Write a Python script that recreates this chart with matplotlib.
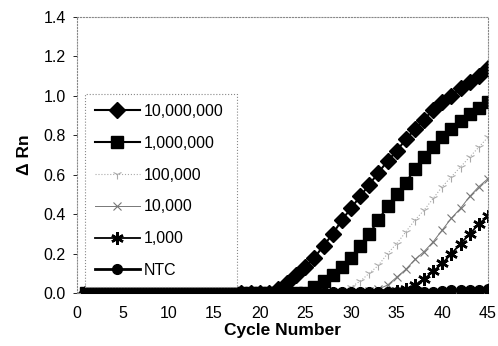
import numpy as np
import matplotlib.pyplot as plt
from matplotlib.lines import Line2D

plt.rcParams['font.family'] = ['Liberation Sans', 'DejaVu Sans']

cycles = list(range(1, 46))

# delta Rn per cycle
s_10m = [0.0] * 21 + [0.02, 0.05, 0.09, 0.13, 0.18, 0.24, 0.30, 0.37, 0.43, 0.49,
                      0.55, 0.61, 0.67, 0.72, 0.78, 0.83, 0.88, 0.93, 0.97, 1.00,
                      1.04, 1.07, 1.10, 1.14]
s_1m = [0.0] * 25 + [0.03, 0.06, 0.09, 0.13, 0.18, 0.24, 0.30, 0.37, 0.44, 0.50,
                     0.56, 0.63, 0.69, 0.74, 0.79, 0.83, 0.87, 0.91, 0.94, 0.97]
s_100k = [0.0] * 28 + [0.01, 0.03, 0.06, 0.10, 0.14, 0.20, 0.25, 0.31, 0.37, 0.42,
                       0.48, 0.54, 0.59, 0.64, 0.69, 0.74, 0.79]
s_10k = [0.0] * 31 + [0.01, 0.02, 0.04, 0.08, 0.12, 0.17, 0.21, 0.26, 0.32, 0.38,
                      0.43, 0.49, 0.54, 0.58]
s_1k = [0.0] * 34 + [0.01, 0.02, 0.04, 0.07, 0.11, 0.15, 0.20, 0.25, 0.30, 0.35, 0.39]
s_ntc = [0.005] * 39 + [0.012, 0.015, 0.015, 0.015, 0.015, 0.018]

labels = ['10,000,000', '1,000,000', '100,000', '10,000', '1,000', 'NTC']
yticks = [0.0, 0.2, 0.4, 0.6, 0.8, 1.0, 1.2, 1.4]
xticks = [0, 5, 10, 15, 20, 25, 30, 35, 40, 45]

fig = plt.figure(figsize=(4.98, 3.46), dpi=100)
ax = fig.add_axes([77 / 498, 53 / 346, 411 / 498, 276 / 346])

ax.plot(cycles, s_ntc, color='black', lw=2, marker='o', ms=7, label=labels[5], zorder=3)
ax.plot(cycles, s_1k, color='black', lw=1.3, marker=(6, 2, 0), ms=9, mew=1.8, label=labels[4])
ax.plot(cycles, s_10k, color='#777777', lw=0.7, marker='x', ms=6, mew=0.8, label=labels[3])
ax.plot(cycles, s_100k, color='#aaaaaa', lw=0.8, ls=':', marker='1', ms=7, mew=0.8, label=labels[2])
ax.plot(cycles, s_1m, color='black', lw=1.5, marker='s', ms=8, label=labels[1])
ax.plot(cycles, s_10m, color='black', lw=1.5, marker='D', ms=8, label=labels[0])

ax.set_xlim(0, 45)
ax.set_ylim(0, 1.4)
ax.set_xticks(xticks)
ax.set_yticks(yticks)
ax.set_yticklabels(['%.1f' % v for v in yticks])
ax.tick_params(axis='y', length=3, width=0.6, labelsize=11.5, pad=5)
ax.tick_params(axis='x', length=0, labelsize=11.5, pad=9)
for sp in ax.spines.values():
    sp.set_color('#888888')
    sp.set_linewidth(0.8)
    sp.set_linestyle(':')
ax.spines['bottom'].set_linestyle('-')

ax.set_xlabel('Cycle Number', fontsize=12.5, fontweight='bold', labelpad=2)
ax.set_ylabel('Δ Rn', fontsize=12.5, fontweight='bold', labelpad=8)

handles, lbls = ax.get_legend_handles_labels()
leg = ax.legend(handles[::-1], lbls[::-1], loc='lower left',
                bbox_to_anchor=(0.02, 0.02, 0.37, 0.70), mode='expand',
                fontsize=11.5, handlelength=2.8, handletextpad=0.25,
                labelspacing=1.05, borderaxespad=0, fancybox=False,
                borderpad=0.6, framealpha=1)
leg.get_frame().set_edgecolor('#888888')
leg.get_frame().set_linestyle(':')
leg.get_frame().set_linewidth(0.8)

fig.savefig('out.png', dpi=100)
